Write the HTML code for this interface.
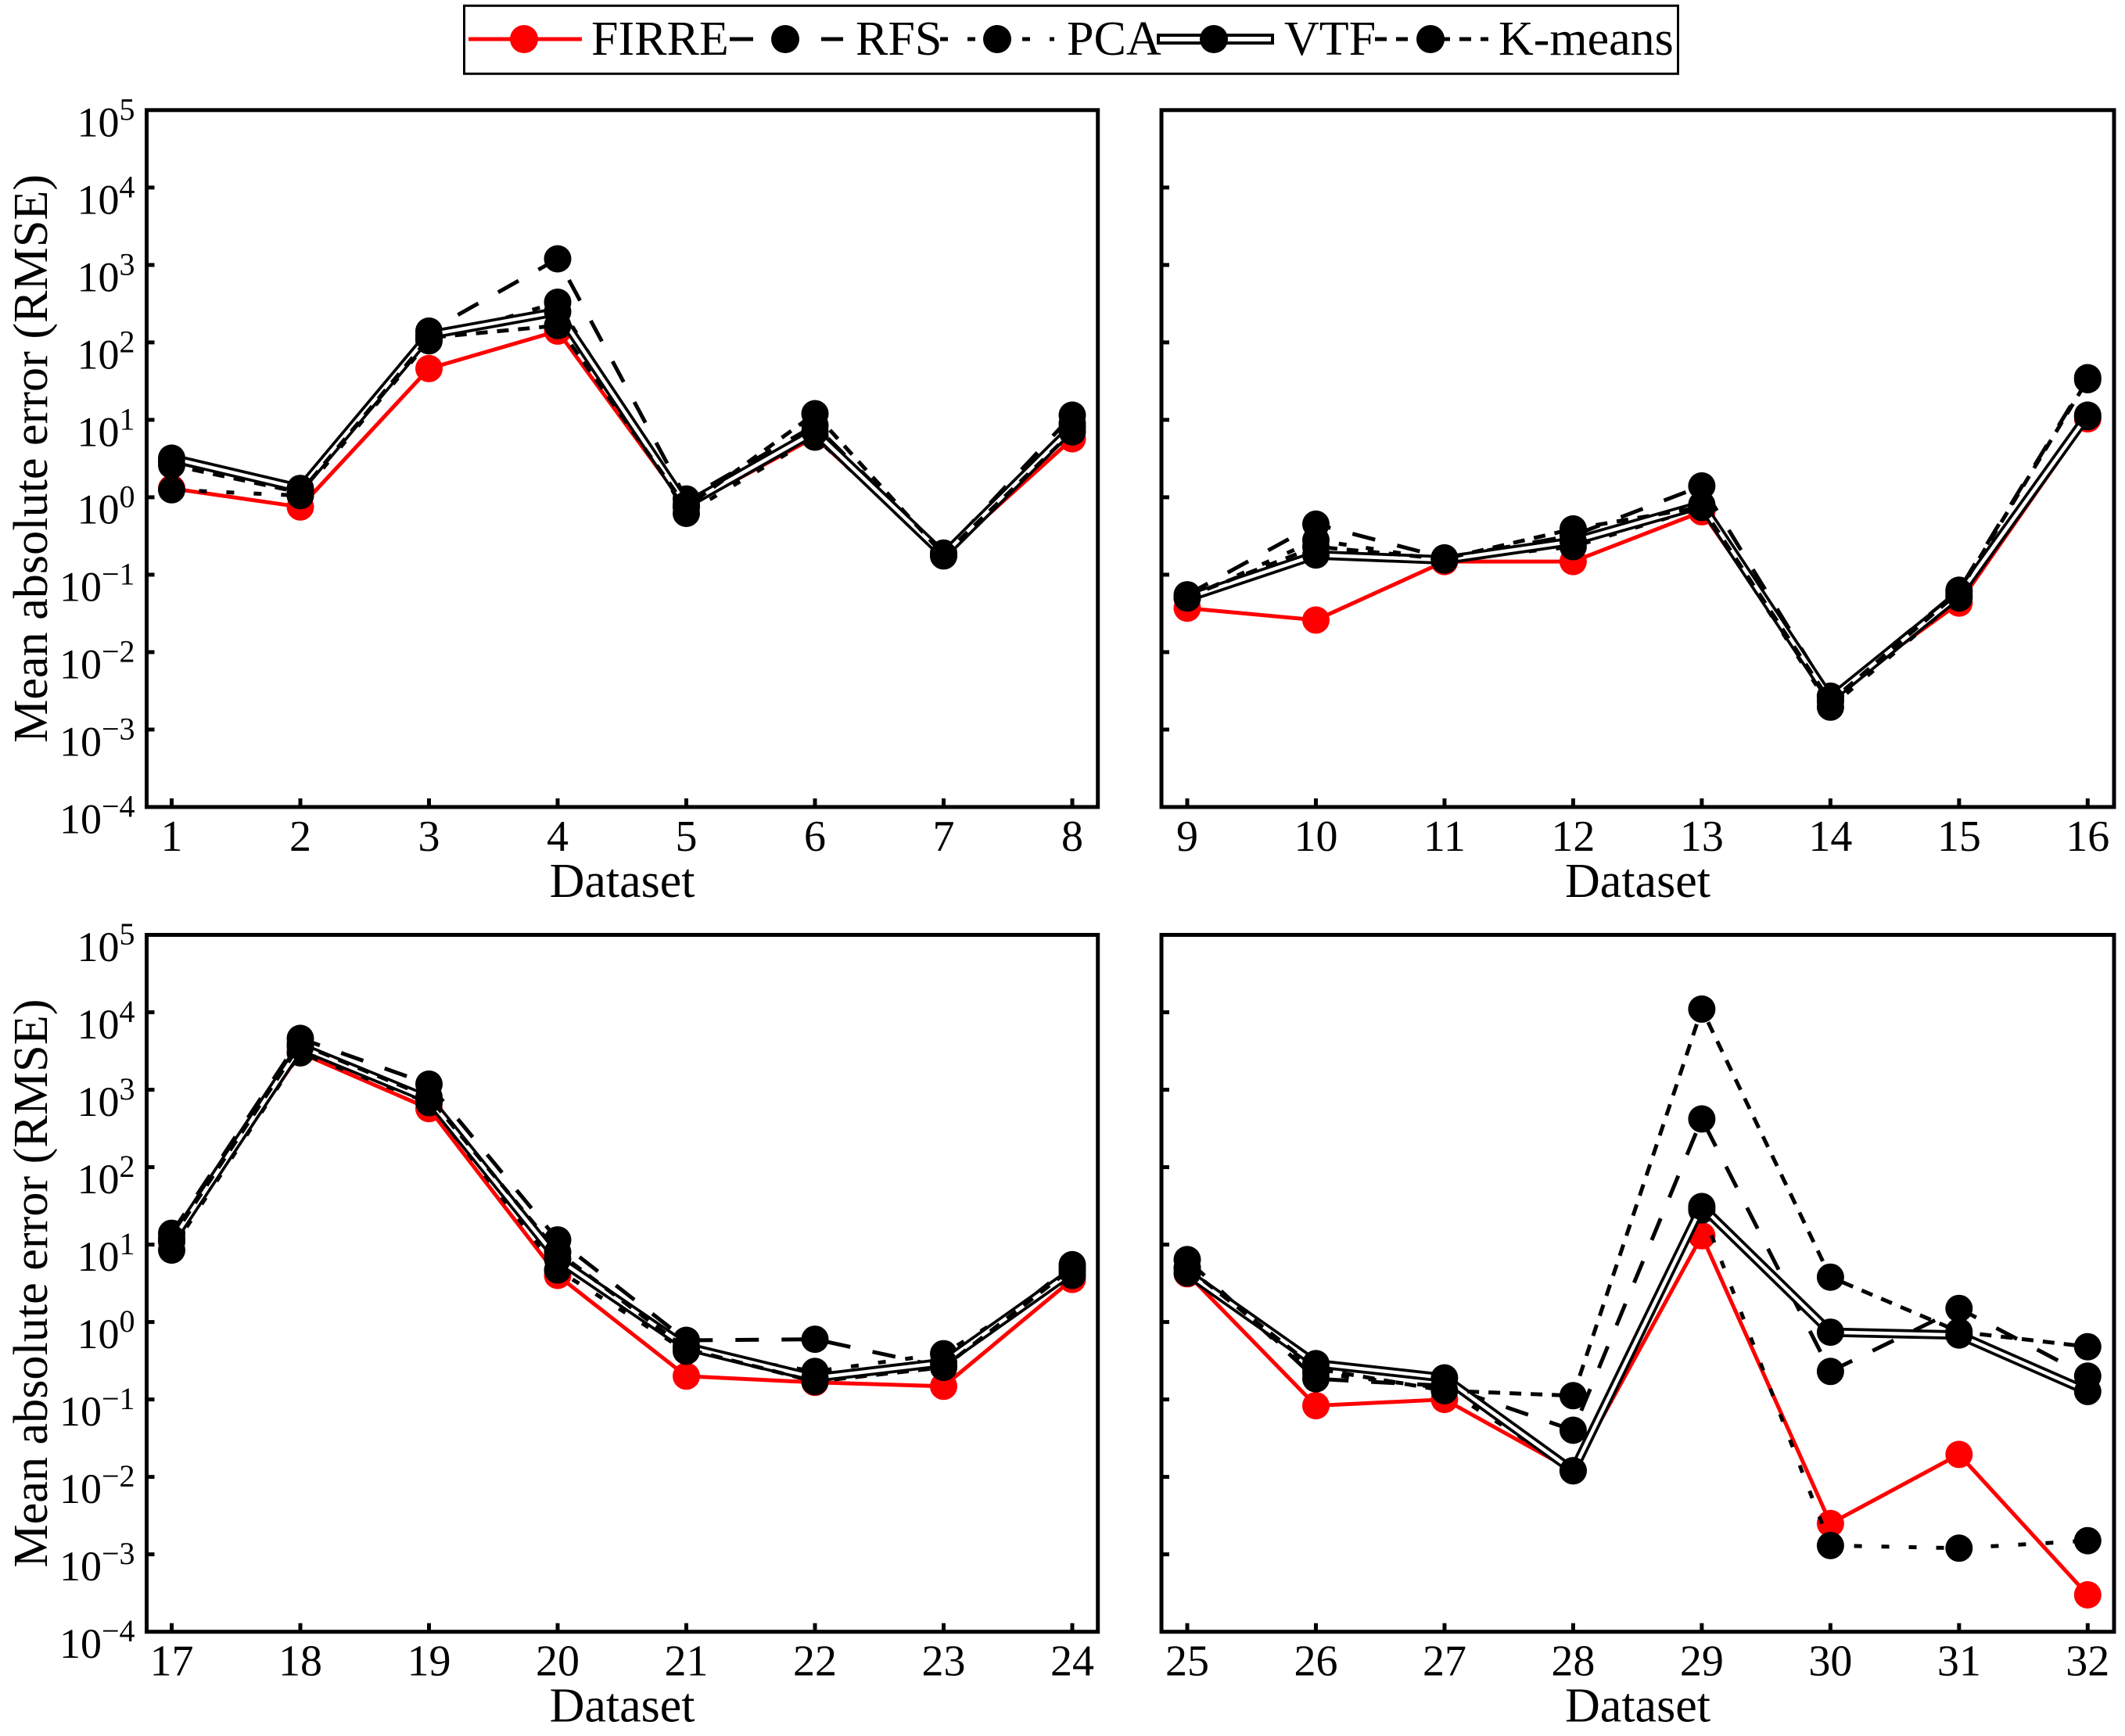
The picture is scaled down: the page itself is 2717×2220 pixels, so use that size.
<!DOCTYPE html>
<html lang="en">
<head>
<meta charset="utf-8">
<title>Mean absolute error by dataset</title>
<style>
html,body{margin:0;padding:0;background:#fff;}
svg{display:block;}
text{font-family:"Liberation Serif",serif;fill:#000;}
</style>
</head>
<body>
<svg id="chart" xmlns="http://www.w3.org/2000/svg" width="2717" height="2220" viewBox="0 0 2717 2220">
  <rect x="0" y="0" width="2717" height="2220" fill="#fff"/>
  <g>
    <rect x="593.5" y="7.3" width="1552" height="87" fill="#fff" stroke="#000" stroke-width="3"/>
    <g>
      <line x1="599" y1="50" x2="744" y2="50" stroke="#f00" stroke-width="5"/>
      <circle cx="670" cy="50" r="18" fill="#f00"/>
      <text x="756" y="70" font-size="62">FIRRE</text>
    </g>
    <g>
      <line x1="933" y1="50" x2="1078" y2="50" stroke="#000" stroke-width="5" stroke-dasharray="30 28.5"/>
      <circle cx="1004" cy="50" r="18" fill="#000"/>
      <text x="1094" y="70" font-size="62">RFS</text>
    </g>
    <g>
      <line x1="1202" y1="50" x2="1348" y2="50" stroke="#000" stroke-width="5" stroke-dasharray="10 25"/>
      <circle cx="1275" cy="50" r="18" fill="#000"/>
      <text x="1364" y="70" font-size="62">PCA</text>
    </g>
    <g>
      <line x1="1479" y1="50" x2="1629" y2="50" stroke="#000" stroke-width="14"/>
      <line x1="1483" y1="50" x2="1625" y2="50" stroke="#fff" stroke-width="6"/>
      <circle cx="1552" cy="50" r="18" fill="#000"/>
      <text x="1642" y="70" font-size="62">VTF</text>
    </g>
    <g>
      <line x1="1758" y1="50" x2="1903" y2="50" stroke="#000" stroke-width="5" stroke-dasharray="15 12"/>
      <circle cx="1829" cy="50" r="18" fill="#000"/>
      <text x="1916" y="70" font-size="62">K-means</text>
    </g>
  </g>
</svg>
<script>
var datasets = [1,2,3,4,5,6,7,8,9,10,11,12,13,14,15,16,17,18,19,20,21,22,23,24,25,26,27,28,29,30,31,32];
var firre  = [1.3,0.75,46,140,0.75,6,0.18,5.7, 0.037,0.026,0.148,0.148,0.65,0.0027,0.043,10.3, 11,3000,570,4,0.2,0.166,0.148,3.55, 4.2,0.083,0.1,0.012,13,0.0025,0.0195,0.0003];
var rfs    = [2.9,1.25,140,1200,0.95,8.5,0.19,11.5, 0.055,0.45,0.165,0.32,1.4,0.0027,0.063,35, 14,4600,1180,11.5,0.58,0.6,0.26,5.5, 6.4,0.185,0.15,0.04,420,0.23,1.5,0.2];
var pca    = [1.25,1.05,105,330,0.62,6,0.175,9, 0.05,0.28,0.155,0.23,0.74,0.00195,0.05,11, 8.5,3000,680,4.7,0.42,0.23,0.39,4, 5,0.22,0.14,0.012,28,0.0013,0.0012,0.0015];
var vtf    = [3.2,1.3,125,250,0.8,7,0.18,8, 0.05,0.18,0.155,0.27,0.8,0.0025,0.055,11.5, 11,3600,750,6.5,0.48,0.19,0.3,4.5, 4.3,0.29,0.19,0.012,31,0.74,0.68,0.127];
var kmeans = [2.6,1.15,115,165,0.75,12,0.18,7, 0.052,0.23,0.16,0.39,0.75,0.0023,0.06,33, 12,3900,800,8,0.45,0.17,0.26,5, 5,0.25,0.13,0.112,11000,3.8,0.75,0.48];
var yTickExponents = [5,4,3,2,1,0,-1,-2,-3,-4];

var NS = 'http://www.w3.org/2000/svg';
var svg = document.getElementById('chart');
var layouts = [
  {id:'top-left',     start:0,  left:187.5, right:1403.7, top:140.8,  bottom:1032,   firstX:219.5, lastX:1371,   yLabels:true},
  {id:'top-right',    start:8,  left:1485,  right:2703,   top:140.8,  bottom:1032,   firstX:1518,  lastX:2669.3, yLabels:false},
  {id:'bottom-left',  start:16, left:187.5, right:1403.7, top:1195.5, bottom:2086.7, firstX:219.5, lastX:1371,   yLabels:true},
  {id:'bottom-right', start:24, left:1485,  right:2703,   top:1195.5, bottom:2086.7, firstX:1518,  lastX:2669.3, yLabels:false}
];

function make(tag, attrs, parent) {
  var el = document.createElementNS(NS, tag);
  for (var k in attrs) el.setAttribute(k, attrs[k]);
  parent.appendChild(el);
  return el;
}

layouts.forEach(function (p) {
  var xOf = function (i) { return p.firstX + (p.lastX - p.firstX) * i / 7; };
  var yOf = function (v) { return p.top + (5 - Math.log10(v)) * (p.bottom - p.top) / 9; };

  var g = make('g', {}, svg);
  
  

  var seriesDefs = [
    {name:'firre',   vals:firre,  color:'#f00', width:5,  dash:null},
    {name:'rfs',     vals:rfs,    color:'#000', width:5,  dash:'30 29'},
    {name:'pca',     vals:pca,    color:'#000', width:5,  dash:'10 25'},
    {name:'vtf',     vals:vtf,    color:'#000', width:12, dash:null},
    {name:'k-means', vals:kmeans, color:'#000', width:5,  dash:'15 12'}
  ];

  seriesDefs.forEach(function (s) {
    var sg = make('g', {}, g);
    
    
    var pts = [];
    for (var i = 0; i < 8; i++) pts.push(xOf(i).toFixed(1) + ',' + yOf(s.vals[p.start + i]).toFixed(1));
    var line = make('polyline', {points:pts.join(' '), fill:'none', stroke:s.color, 'stroke-width':s.width}, sg);
    
    
    if (s.dash) line.setAttribute('stroke-dasharray', s.dash);
    if (s.name === 'vtf') {
      var core = make('polyline', {points:pts.join(' '), fill:'none', stroke:'#fff', 'stroke-width':4.5}, sg);
      
      
    }
    for (var j = 0; j < 8; j++) {
      var c = make('circle', {cx:xOf(j).toFixed(1), cy:yOf(s.vals[p.start + j]).toFixed(1), r:17.5, fill:s.color}, sg);
      
      
    }
  });

  var frame = make('rect', {x:p.left, y:p.top, width:p.right - p.left, height:p.bottom - p.top, fill:'none', stroke:'#000', 'stroke-width':5}, g);
  
  

  yTickExponents.forEach(function (e) {
    var y = yOf(Math.pow(10, e));
    if (e !== 5 && e !== -4) {
      var t = make('line', {x1:p.left, x2:p.left + 10, y1:y, y2:y, stroke:'#000', 'stroke-width':5}, g);
      
      
    }
    if (p.yLabels) {
      var lab = make('text', {x:172.5, y:y + 33.5, 'font-size':54, 'text-anchor':'end'}, g);
      
      
      lab.appendChild(document.createTextNode('10'));
      var sup = make('tspan', {'font-size':40, dy:-21}, lab);
      sup.textContent = String(e).replace('-', '\u2212');
    }
  });

  for (var k = 0; k < 8; k++) {
    var tx = xOf(k);
    var tick = make('line', {x1:tx, x2:tx, y1:p.bottom, y2:p.bottom - 11, stroke:'#000', 'stroke-width':5}, g);
    
    
    var xl = make('text', {x:tx, y:p.bottom + 56, 'font-size':56, 'text-anchor':'middle'}, g);
    
    
    xl.textContent = datasets[p.start + k];
  }

  var xt = make('text', {x:(p.left + p.right) / 2, y:p.bottom + 115, 'font-size':62, 'text-anchor':'middle'}, g);
  
  
  xt.textContent = 'Dataset';

  if (p.yLabels) {
    var cy = (p.top + p.bottom) / 2;
    var yt = make('text', {x:0, y:0, 'font-size':62.2, 'text-anchor':'middle', transform:'translate(60 ' + cy + ') rotate(-90)'}, g);
    
    
    yt.textContent = 'Mean absolute error (RMSE)';
  }
});
</script>
</body>
</html>
